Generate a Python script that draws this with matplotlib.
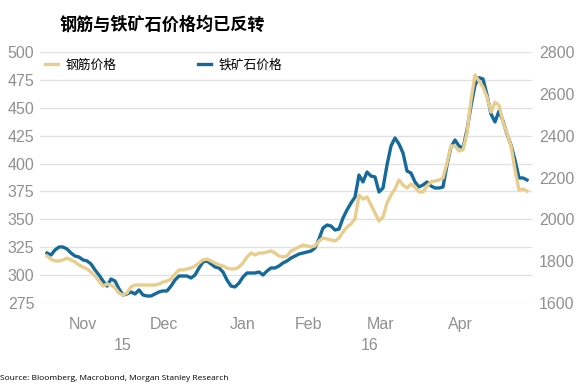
import numpy as np
import matplotlib
matplotlib.use("Agg")
import matplotlib.pyplot as plt
from matplotlib.ticker import FixedLocator

plt.rcParams['font.family'] = ['Liberation Sans', 'Noto Sans CJK SC', 'DejaVu Sans']

# iron ore price (left axis), sampled along the chart from late Oct 2015 to mid May 2016
iron_ore = [319.8, 318.0, 322.5, 325.2, 325.2, 323.4, 319.8, 317.1, 316.2, 313.6,
            312.7, 310.0, 304.6, 300.1, 294.7, 290.2, 296.5, 294.7, 287.6, 282.2,
            283.1, 284.9, 283.1, 286.7, 282.2, 281.3, 281.3, 283.1, 284.9, 285.8,
            285.8, 290.2, 295.6, 299.2, 299.2, 299.2, 297.4, 300.1, 306.4, 311.8,
            312.7, 310.0, 307.3, 306.4, 302.8, 295.6, 290.2, 289.4, 292.9, 298.3,
            301.9, 301.9, 301.9, 302.8, 300.1, 303.7, 306.4, 306.4, 308.2, 310.9,
            312.7, 315.3, 317.1, 318.9, 319.8, 320.7, 321.6, 324.3, 332.4, 342.2,
            344.9, 344.0, 340.4, 341.3, 351.2, 358.4, 364.6, 370.0, 389.7, 383.5,
            392.4, 388.8, 388.0, 374.5, 378.1, 398.7, 415.7, 422.9, 417.5, 409.5,
            393.3, 391.5, 383.5, 379.0, 380.8, 383.5, 379.9, 378.1, 378.1, 379.0,
            398.7, 414.8, 421.1, 415.7, 413.9, 430.1, 451.6, 470.4, 477.0, 475.8,
            461.5, 444.4, 437.3, 447.1, 438.1, 426.5, 416.6, 403.2, 387.1, 387.1,
            385.3]

# rebar price (right axis)
rebar = [1825, 1810, 1801, 1801, 1806, 1815, 1806, 1796, 1782, 1772,
         1763, 1748, 1729, 1705, 1681, 1691, 1686, 1672, 1648, 1638,
         1648, 1677, 1686, 1686, 1686, 1686, 1686, 1686, 1691, 1700,
         1705, 1715, 1739, 1758, 1758, 1763, 1767, 1777, 1791, 1806,
         1810, 1801, 1791, 1782, 1777, 1767, 1763, 1763, 1772, 1791,
         1820, 1839, 1830, 1839, 1839, 1844, 1849, 1839, 1825, 1820,
         1825, 1849, 1858, 1868, 1877, 1873, 1868, 1873, 1896, 1911,
         1906, 1901, 1896, 1911, 1939, 1963, 1978, 2002, 2116, 2097,
         2107, 2069, 2030, 1992, 2011, 2078, 2116, 2145, 2188, 2164,
         2150, 2169, 2155, 2131, 2131, 2159, 2179, 2183, 2188, 2198,
         2269, 2351, 2351, 2327, 2332, 2413, 2571, 2690, 2661, 2633,
         2585, 2513, 2560, 2545, 2465, 2413, 2351, 2236, 2140, 2145,
         2135]

month_pos = [9, 29.25, 49, 65.5, 83.5, 103.25]
month_labels = ['Nov', 'Dec', 'Jan', 'Feb', 'Mar', 'Apr']
year_pos = [19, 80.75]
year_labels = ['15', '16']

left_ticks = np.arange(275, 501, 25)
right_ticks = np.arange(1600, 2801, 200)

x = np.arange(len(iron_ore))

blue = '#16699b'
yellow = '#e8cd8c'
grey = '#909090'

fig = plt.figure(figsize=(5.81, 3.84), dpi=100)
ax = fig.add_axes([40 / 581, 1 - 303 / 384, 492 / 581, 251 / 384])
ax2 = ax.twinx()

l_iron, = ax.plot(x, iron_ore, color=blue, lw=2.4, solid_joinstyle='round')
l_rebar, = ax2.plot(x, rebar, color=yellow, lw=2.4, solid_joinstyle='round')

ax.set_xlim(-1.75, 121.25)
ax.set_ylim(275, 500)
ax2.set_ylim(1600, 2800)
ax.set_yticks(left_ticks)
ax2.set_yticks(right_ticks)
ax.grid(axis='y', color='#e2e2e2', lw=1)
ax.set_axisbelow(True)

ax.set_xticks(month_pos)
ax.set_xticklabels(month_labels)
ax.xaxis.set_minor_locator(FixedLocator(year_pos))
ax.set_xticklabels(year_labels, minor=True)

ax.tick_params(axis='x', which='major', length=0, pad=10, labelsize=11.5, labelcolor=grey)
ax.tick_params(axis='x', which='minor', length=0, pad=25, labelsize=11.5, labelcolor=grey)
ax.tick_params(axis='y', length=0, pad=4, labelsize=11.5, labelcolor=grey)
ax2.tick_params(axis='y', length=0, pad=5, labelsize=11.5, labelcolor=grey)

for a in (ax, ax2):
    for s in a.spines.values():
        s.set_visible(False)

fig.text(60 / 581, 1 - 25 / 384, '钢筋与铁矿石价格均已反转', fontsize=12.3, fontweight='bold',
         family=['Noto Sans CJK SC', 'DejaVu Sans'], ha='left', va='center')

fig.legend([l_rebar, l_iron], ['钢筋价格', '铁矿石价格'], loc='center left',
           bbox_to_anchor=(45 / 581, 1 - 65 / 384), ncol=2, frameon=False,
           handlelength=1.05, handletextpad=0.6, columnspacing=6.3,
           borderpad=0, borderaxespad=0,
           prop={'family': ['Noto Sans CJK SC', 'DejaVu Sans'], 'size': 9.2})

fig.text(0.0, 1 - 379 / 384, 'Source: Bloomberg, Macrobond, Morgan Stanley Research',
         fontsize=6, family=['Open Sans', 'DejaVu Sans'], ha='left', va='center')

fig.savefig('out.png', dpi=100)
